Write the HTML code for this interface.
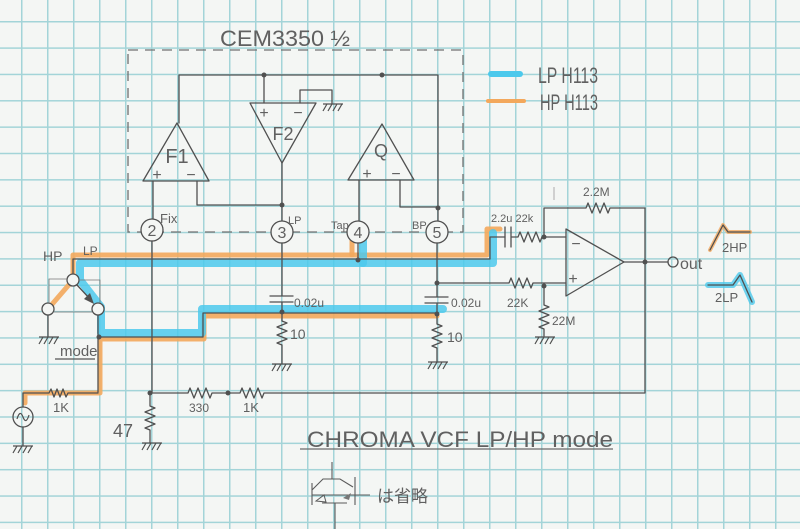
<!DOCTYPE html>
<html><head><meta charset="utf-8"><style>
html,body{margin:0;padding:0;background:#f4f6f4;}
svg{display:block;}
.w{fill:none;stroke:#505050;stroke-width:1.3;stroke-linecap:round;stroke-linejoin:round;}
.t{font-family:"Liberation Sans","Noto Sans CJK JP",sans-serif;fill:#606060;}
</style></head><body>
<svg width="800" height="529" viewBox="0 0 800 529" xmlns="http://www.w3.org/2000/svg">
<defs>
<pattern id="grid" patternUnits="userSpaceOnUse" x="21" y="21" width="26" height="26.35">
<path d="M0.75,0 V26.35 M0,0.75 H26" stroke="#a3d4d8" stroke-width="1.5" fill="none"/>
</pattern>
<g id="gnd"><path d="M-10,0 H10 M-6,0 l-4,7 M-1,0 l-4,7 M4,0 l-4,7 M9,0 l-4,7" fill="none" stroke="#505050" stroke-width="1.2"/></g>
</defs>
<rect width="800" height="529" fill="#f4f6f4"/>
<rect width="800" height="529" fill="url(#grid)"/>

<!-- highlights -->
<g fill="none" stroke-linejoin="round" stroke-linecap="round">
<path d="M48,309 L73,280 V255 H487 V229 H500" stroke="#f3a85c" stroke-width="5" opacity="0.9"/>
<path d="M352,255 V239" stroke="#f3a85c" stroke-width="5" opacity="0.9"/>
<path d="M25,403 V393 H100 V339 H204 V316 H437" stroke="#f3a85c" stroke-width="5" opacity="0.9"/>
<path d="M493,233 V263 H80 V280 L101,307 V333 H202 V309 H443" stroke="#4cc9ec" stroke-width="8" opacity="0.85"/>
<path d="M363,237 V263" stroke="#4cc9ec" stroke-width="8" opacity="0.85"/>
<path d="M491,74 H520" stroke="#4cc9ec" stroke-width="6"/>
<path d="M488,101 H524" stroke="#f3a85c" stroke-width="4"/>
<path d="M710,250 L723,225 L728,232 H750" stroke="#f3a85c" stroke-width="4" opacity="0.8"/>
<path d="M708,285 H733 L740,275 L752,302" stroke="#4cc9ec" stroke-width="6" opacity="0.8"/>
</g>
<path d="M710,250 L723,225 L728,232 H750" class="w" stroke-width="1"/>
<path d="M708,285 H733 L740,275 L752,302" class="w" stroke-width="1"/>

<!-- chip dashed box -->
<rect x="128" y="50" width="335" height="182" fill="none" stroke="#707070" stroke-width="1.3" stroke-dasharray="10 7"/>

<!-- chip internals -->
<path class="w" d="M179,123 V75 H438 V221"/>
<path class="w" d="M264,75 V103 M300,103 V90 H332 V104"/>
<use href="#gnd" x="333" y="104"/>
<polygon class="w" points="250,103 316,103 282,163"/>
<polygon class="w" points="143,181 209,181 177,123"/>
<polygon class="w" points="348,180 414,180 382,124"/>
<path class="w" d="M153,181 V219 M197,181 V205 H282 M282,163 V221 M359,180 V221 M400,180 V207 H438"/>
<circle cx="264" cy="75" r="2.5" fill="#505050"/>
<circle cx="382" cy="75" r="2.5" fill="#505050"/>
<circle cx="282" cy="205" r="2.5" fill="#505050"/>
<circle cx="438" cy="208" r="2.5" fill="#505050"/>
<text class="t" x="177" y="163" font-size="20" text-anchor="middle">F1</text>
<text class="t" x="283" y="140" font-size="18" text-anchor="middle">F2</text>
<text class="t" x="381" y="157" font-size="18" text-anchor="middle">Q</text>
<text class="t" x="157" y="180" font-size="16" text-anchor="middle">+</text>
<text class="t" x="191" y="180" font-size="16" text-anchor="middle">−</text>
<text class="t" x="264" y="118" font-size="16" text-anchor="middle">+</text>
<text class="t" x="298" y="118" font-size="16" text-anchor="middle">−</text>
<text class="t" x="367" y="179" font-size="16" text-anchor="middle">+</text>
<text class="t" x="396" y="179" font-size="16" text-anchor="middle">−</text>

<!-- pins -->
<g fill="#f4f6f4" stroke="#505050" stroke-width="1.3">
<circle cx="152" cy="230" r="11"/>
<circle cx="282" cy="232" r="11"/>
<circle cx="358" cy="232" r="11"/>
<circle cx="437" cy="232" r="11"/>
</g>
<text class="t" x="152" y="236" font-size="16" text-anchor="middle">2</text>
<text class="t" x="282" y="238" font-size="16" text-anchor="middle">3</text>
<text class="t" x="358" y="238" font-size="16" text-anchor="middle">4</text>
<text class="t" x="437" y="238" font-size="16" text-anchor="middle">5</text>
<text class="t" x="160" y="223" font-size="13">Fix</text>
<text class="t" x="288" y="224" font-size="11">LP</text>
<text class="t" x="331" y="229" font-size="11">Tap</text>
<text class="t" x="412" y="229" font-size="11">BP</text>

<!-- main mid wire -->
<path class="w" d="M73,274 V259 H490 V237 H505"/>
<path class="w" d="M358,243 V260"/>
<circle cx="358" cy="260" r="2.5" fill="#505050"/>

<!-- switch -->
<g fill="#f4f6f4" stroke="#505050" stroke-width="1.3">
<circle cx="73" cy="280" r="6"/>
<circle cx="48" cy="309" r="6"/>
<circle cx="98" cy="309" r="6"/>
</g>
<path class="w" d="M77,285 L90,299"/>
<polygon points="94,304 84,299 90,293" fill="#505050"/>
<path d="M49,303 V279 H67 M79,280 H100 V303 M54,312 H92" fill="none" stroke="#777" stroke-width="0.8"/>
<path class="w" d="M48,315 V337"/>
<use href="#gnd" x="49" y="337"/>
<text class="t" x="43" y="261" font-size="14">HP</text>
<text class="t" x="83" y="255" font-size="12">LP</text>
<text class="t" x="60" y="356" font-size="15">mode</text>
<path d="M55,359 H95" stroke="#555" stroke-width="1.2"/>

<!-- lower signal path -->
<path class="w" d="M98,315 V392 M98,337 H203 V313 H437"/>
<circle cx="99" cy="337" r="2.5" fill="#505050"/>
<path class="w" d="M23,407 V393 H49 l2,-4 l3,8 l3,-8 l3,8 l3,-8 l3,8 l2,-4 H98"/>
<circle cx="23" cy="417" r="10" fill="none" stroke="#505050" stroke-width="1.3"/>
<path d="M17,419 q3,-10 6,-2 q3,8 6,-2" fill="none" stroke="#505050" stroke-width="1.2"/>
<path class="w" d="M23,427 V446"/>
<use href="#gnd" x="23" y="446"/>
<text class="t" x="53" y="412" font-size="13">1K</text>

<!-- pin 2 down & bottom wire -->
<path class="w" d="M152,241 V393"/>
<circle cx="150" cy="393" r="2.5" fill="#505050"/>
<path class="w" d="M150,393 H188 l2,-5 l4,10 l4,-10 l4,10 l4,-10 l4,10 l2,-5 H240 l2,-5 l4,10 l4,-10 l4,10 l4,-10 l4,10 l2,-5 H645 V208"/>
<circle cx="228" cy="393" r="2.5" fill="#505050"/>
<path class="w" d="M150,393 V406 l5,2 l-10,4 l10,4 l-10,4 l10,4 l-10,4 l5,2 V443"/>
<use href="#gnd" x="152" y="443"/>
<text class="t" x="113" y="437" font-size="18">47</text>
<text class="t" x="189" y="412" font-size="12">330</text>
<text class="t" x="243" y="412" font-size="13">1K</text>

<!-- pin 3 down -->
<path class="w" d="M282,243 V296 M270,296 H293 M270,302 H293 M282,302 V321 l5,2 l-10,4 l10,4 l-10,4 l10,4 l-10,4 l5,2 V364"/>
<circle cx="282" cy="312" r="2.5" fill="#505050"/>
<use href="#gnd" x="282" y="364"/>
<text class="t" x="294" y="307" font-size="12">0.02u</text>
<text class="t" x="290" y="339" font-size="14">10</text>

<!-- pin 5 down -->
<path class="w" d="M437,243 V297 M425,297 H448 M425,303 H448 M437,303 V324 l5,2 l-10,4 l10,4 l-10,4 l10,4 l-10,4 l5,2 V362"/>
<circle cx="437" cy="283" r="2.5" fill="#505050"/>
<circle cx="437" cy="314" r="2.5" fill="#505050"/>
<use href="#gnd" x="438" y="362"/>
<text class="t" x="451" y="307" font-size="12">0.02u</text>
<text class="t" x="447" y="342" font-size="14">10</text>

<!-- non-inverting input -->
<path class="w" d="M437,283 H509 l2,-5 l4,10 l4,-10 l4,10 l4,-10 l4,10 l2,-5 H566"/>
<circle cx="544" cy="286" r="2.5" fill="#505050"/>
<path class="w" d="M544,286 V305 l5,2 l-10,4 l10,4 l-10,4 l10,4 l-10,4 l5,2 V336"/>
<use href="#gnd" x="545" y="337"/>
<text class="t" x="507" y="307" font-size="12">22K</text>
<text class="t" x="552" y="325" font-size="12">22M</text>

<!-- op amp -->
<polygon class="w" points="566,229 566,296 624,262"/>
<text class="t" x="576" y="249" font-size="16" text-anchor="middle">−</text>
<text class="t" x="573" y="284" font-size="16" text-anchor="middle">+</text>
<path class="w" d="M505,227 V247 M511,227 V247 M511,237 H518 l2,-5 l4,10 l4,-10 l4,10 l4,-10 l4,10 l2,-5 H566"/>
<circle cx="544" cy="237" r="2.5" fill="#505050"/>
<path class="w" d="M544,237 V208 H586 l2,-5 l4,10 l4,-10 l4,10 l4,-10 l4,10 l2,-5 H645"/>
<path class="w" d="M624,262 H668"/>
<circle cx="645" cy="262" r="2.5" fill="#505050"/>
<circle cx="673" cy="262" r="5" fill="none" stroke="#505050" stroke-width="1.3"/>
<text class="t" x="680" y="269" font-size="16">out</text>
<text class="t" x="583" y="196" font-size="12">2.2M</text>
<text class="t" x="491" y="222" font-size="11">2.2u 22k</text>
<path d="M554,187 V200" stroke="#999" stroke-width="0.8"/>

<!-- legend & titles -->
<text class="t" x="538" y="83" font-size="22" textLength="60" lengthAdjust="spacingAndGlyphs" fill="#6a6a6a">LP H113</text>
<text class="t" x="540" y="110" font-size="22" textLength="58" lengthAdjust="spacingAndGlyphs" fill="#6a6a6a">HP H113</text>
<text class="t" x="220" y="46" font-size="22" textLength="130" lengthAdjust="spacingAndGlyphs" fill="#7a7a7a">CEM3350 ½</text>
<text class="t" x="722" y="252" font-size="13">2HP</text>
<text class="t" x="715" y="302" font-size="13">2LP</text>

<text class="t" x="307" y="447" font-size="22" textLength="306" lengthAdjust="spacingAndGlyphs" fill="#727272">CHROMA VCF LP/HP mode</text>
<path d="M300,449 H613" stroke="#6a6a6a" stroke-width="1.2"/>

<!-- bottom switch symbol -->
<path d="M332,462 V479 M312,483 V505 M355,477 V505 M312,490 L323,479 H340 L353,487 M312,495 H370 M322,503 H347 M335,503 V529" fill="none" stroke="#5a5a5a" stroke-width="1.1"/>
<polygon points="316,501 324,495 326,502" fill="none" stroke="#5a5a5a" stroke-width="1"/>
<polygon points="343,498 351,493 349,500" fill="#777"/>
<text class="t" x="377" y="502" font-size="17" fill="#6a6a6a">は省略</text>
</svg>
</body></html>
